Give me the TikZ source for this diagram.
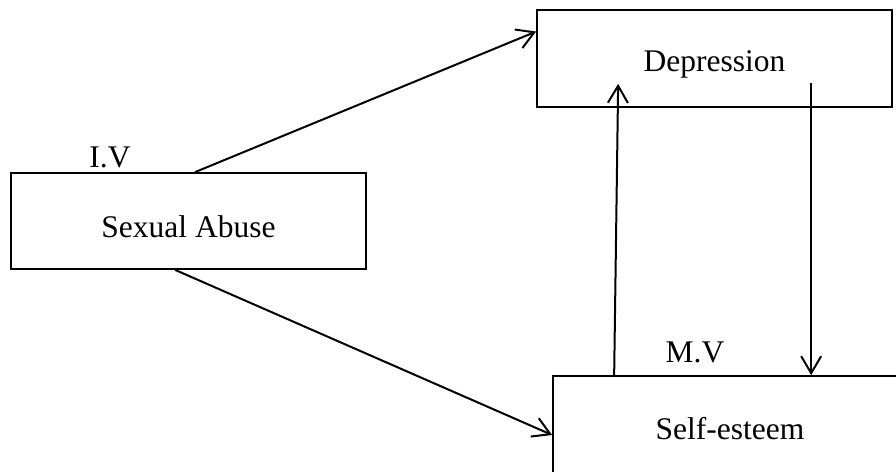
\documentclass[tikz,border=0pt]{standalone}
\usepackage{fontspec}
\setmainfont{Liberation Serif}
\usetikzlibrary{arrows.meta,calc}
\begin{document}
\begin{tikzpicture}[x=1pt,y=1pt,
  boxnode/.style={draw,line width=1.7pt,minimum width=355pt,minimum height=97pt,inner sep=0pt,
    font=\fontsize{31.5}{38}\selectfont},
  lbl/.style={font=\fontsize{31.5}{38}\selectfont,inner sep=0pt},
  conn/.style={line width=2pt,-{Straight Barb[length=17pt,width=20pt,line width=2pt]}}]
\clip (0,0) rectangle (896,471);
\fill[white] (0,0) rectangle (896,471);
\node[boxnode] (dep) at (714.5,412.5) {\raisebox{-6pt}[\height][\depth]{Depression}};
\node[boxnode,minimum height=96pt] (sa) at (188.5,250) {\raisebox{-6pt}[\height][\depth]{Sexual Abuse}};
\node[boxnode,minimum width=354pt] (se) at (730,46.5) {\raisebox{-4pt}[\height][\depth]{Self-esteem}};
\node[lbl] (iv) at (110,314) {I.V};
\node[lbl] (mv) at (695,119) {M.V};
\coordinate (uptip) at ([xshift=82pt,yshift=24pt]dep.south west);
\coordinate (downstart) at ([xshift=275pt,yshift=25pt]dep.south west);
\draw[conn] ([xshift=6.5pt]sa.north) -- ($(dep.north west)!0.227!(dep.south west)$);
\draw[conn] ([xshift=-13.5pt]sa.south) -- ([yshift=-10.5pt]se.west);
\draw[conn] ([xshift=62pt]se.north west) -- (uptip);
\draw[conn] (downstart) -- ([xshift=259pt]se.north west);
\end{tikzpicture}
\end{document}
